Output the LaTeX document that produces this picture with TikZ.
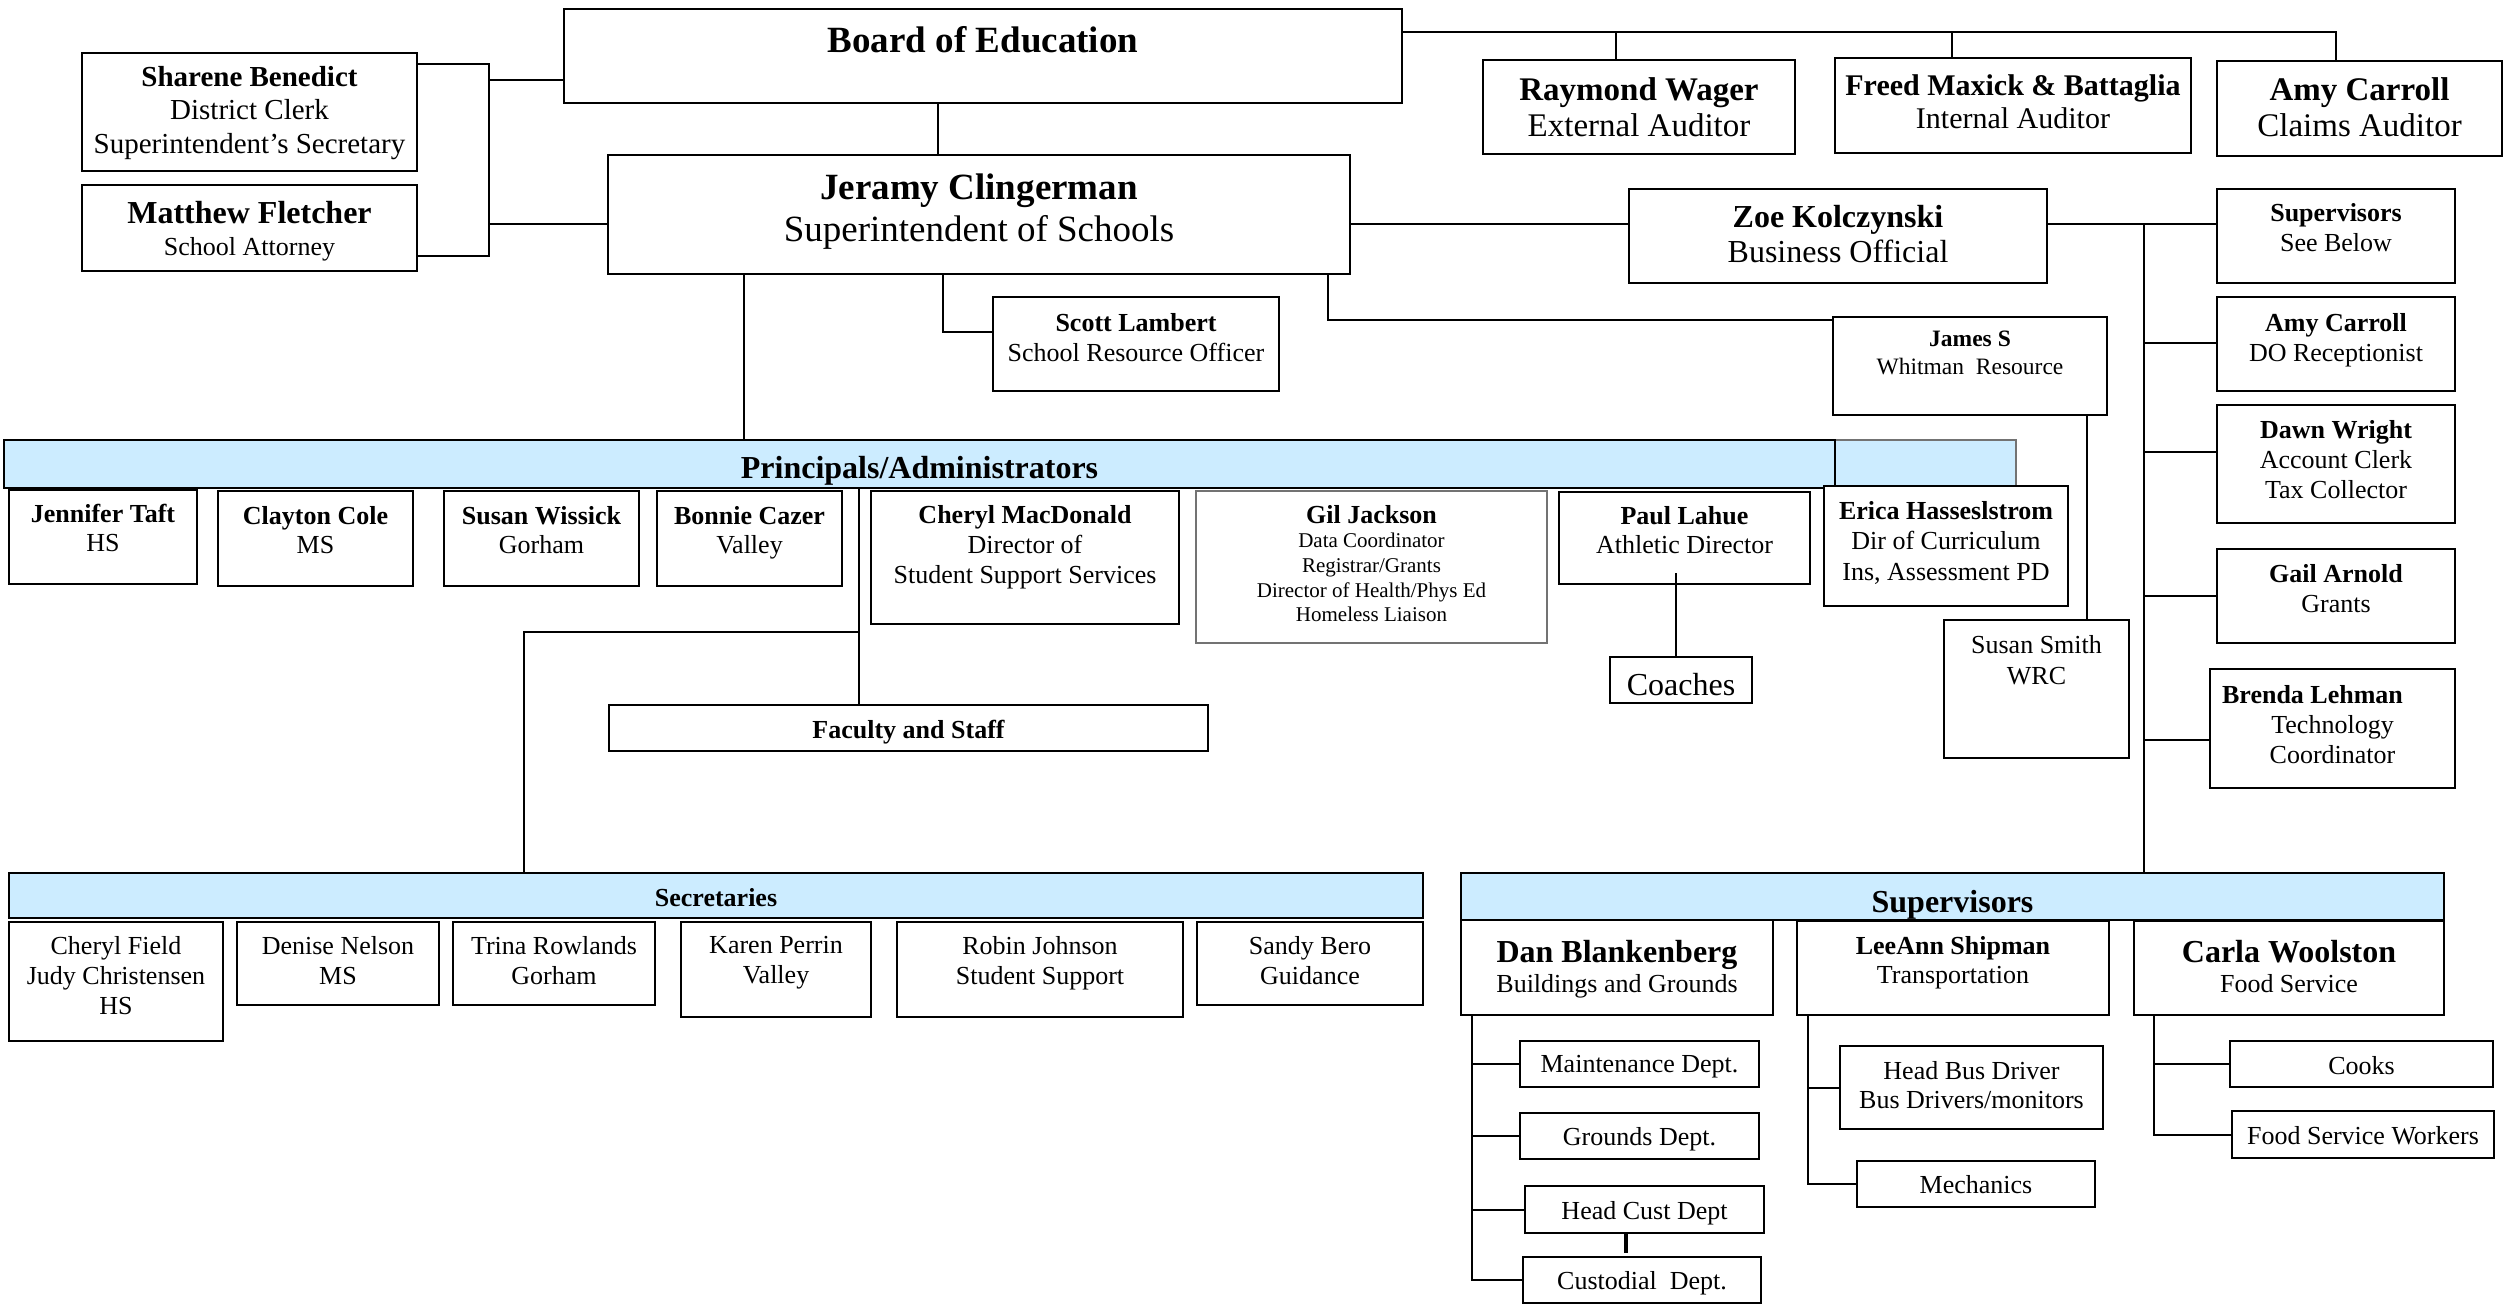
\documentclass[tikz,border=0pt]{standalone}
\usepackage{fontspec}
\setmainfont{Liberation Serif}
\definecolor{barblue}{RGB}{204,236,255}
\newcommand\fs[2]{\fontsize{#1}{#2}\selectfont}
\tikzset{
 boxst/.style={draw=black, line width=2.6pt, fill=white, inner sep=0pt, outer sep=0pt},
 thinbox/.style={draw=black!55, line width=1.3pt, fill=white, inner sep=0pt, outer sep=0pt},
 barst/.style={draw=black, line width=2.8pt, fill=barblue, inner sep=0pt, outer sep=0pt},
 extst/.style={draw=black!55, line width=1.5pt, fill=barblue, inner sep=0pt, outer sep=0pt},
 txt/.style={inner sep=0pt, outer sep=0pt, align=center},
 conn/.style={line width=2pt},
 thinconn/.style={line width=1.4pt}
}
% \obox[style]{name}{x1}{y1}{x2}{y2}{pad}{font}{text}
\newcommand\obox[9][boxst]{%
 \node[#1,anchor=north west,minimum width={#5pt-#3pt},minimum height={#6pt-#4pt}] (#2) at (#3,#4) {};
 \node[txt,font={#8},anchor=north] (#2-t) at ([yshift={2pt-#7pt}]#2.north) {#9};
}
\begin{document}
\begin{tikzpicture}[x=1pt,y=-1pt]
\fill[white] (0,0) rectangle (2513,1307);
\useasboundingbox (0,0) rectangle (2513,1307);

% top level
\obox{board}{564}{9}{1402}{103}{19}{\fs{37}{42}\bfseries}{Board of Education}
\obox{sharene}{82}{53}{417}{171}{15}{\fs{29}{33.5}}{\textbf{Sharene Benedict}\\District Clerk\\Superintendent’s Secretary}
\obox{matthew}{82}{185}{417}{271}{18}{\fs{26}{30}}{{\fs{32}{35}\bfseries Matthew Fletcher}\\[2pt]School Attorney}
\obox{jeramy}{608}{155}{1350}{274}{21}{\fs{37}{42}}{\textbf{Jeramy Clingerman}\\Superintendent of Schools}
\obox{scott}{993}{297}{1279}{391}{18}{\fs{26}{30}}{\textbf{Scott Lambert}\\School Resource Officer}
\obox{raymond}{1483}{60}{1795}{154}{20}{\fs{33}{35.5}}{\textbf{Raymond Wager}\\External Auditor}
\obox{freed}{1835}{58}{2191}{153}{19}{\fs{30}{33}}{\textbf{Freed Maxick \& Battaglia}\\Internal Auditor}
\obox{amyc}{2217}{61}{2502}{156}{19}{\fs{33}{36}}{\textbf{Amy Carroll}\\Claims Auditor}
\obox{zoe}{1629}{189}{2047}{283}{18}{\fs{32}{35}}{\textbf{Zoe Kolczynski}\\Business Official}
\obox{supsee}{2217}{189}{2455}{283}{16}{\fs{26}{30}}{\textbf{Supervisors}\\See Below}
\obox{amydo}{2217}{297}{2455}{391}{18}{\fs{26}{30}}{\textbf{Amy Carroll}\\DO Receptionist}
\obox{dawn}{2217}{405}{2455}{523}{17}{\fs{26}{30}}{\textbf{Dawn Wright}\\Account Clerk\\Tax Collector}
\obox{gail}{2217}{549}{2455}{643}{17}{\fs{26}{30}}{\textbf{Gail Arnold}\\Grants}
\obox{brenda}{2210}{669}{2455}{788}{18}{\fs{26}{30}}{\textbf{Brenda Lehman}\hspace*{40pt}\\Technology\\Coordinator}
\obox{james}{1833}{317}{2107}{415}{16}{\fs{23.5}{28}}{\textbf{James S}\\Whitman\ \ Resource}
\obox{susans}{1944}{620}{2129}{758}{17}{\fs{26}{31}}{Susan Smith\\WRC}

% principals
\node[extst,anchor=north west,minimum width=184pt,minimum height=46pt] (prinext) at (1832,440) {};
\obox[barst]{prin}{4}{440}{1835}{488}{18}{\fs{32}{35}\bfseries}{Principals/Administrators}
\obox{erica}{1824}{486}{2068}{606}{17}{\fs{26}{30.5}}{\textbf{Erica Hasseslstrom}\\Dir of Curriculum\\Ins, Assessment PD}
\obox{jennifer}{9}{490}{197}{584}{16}{\fs{26}{29}}{\textbf{Jennifer Taft}\\HS}
\obox{clayton}{218}{491}{413}{586}{17}{\fs{26}{29}}{\textbf{Clayton Cole}\\MS}
\obox{wissick}{444}{491}{639}{586}{17}{\fs{26}{29}}{\textbf{Susan Wissick}\\Gorham}
\obox{bonnie}{657}{491}{842}{586}{17}{\fs{26}{29}}{\textbf{Bonnie Cazer}\\Valley}
\obox{macd}{871}{491}{1179}{624}{16}{\fs{26}{30}}{\textbf{Cheryl MacDonald}\\Director of\\Student Support Services}
\obox[thinbox]{gil}{1196}{491}{1547}{643}{16}{\fs{21}{24.7}}{{\fs{26}{30}\bfseries Gil Jackson}\\Data Coordinator\\Registrar/Grants\\Director of Health/Phys Ed\\Homeless Liaison}
\obox{paul}{1559}{492}{1810}{584}{16}{\fs{26}{29}}{\textbf{Paul Lahue}\\Athletic Director}
\obox{coaches}{1610}{657}{1752}{703}{18}{\fs{32}{35}}{Coaches}
\obox{faculty}{609}{705}{1208}{751}{17}{\fs{26}{30}\bfseries}{Faculty and Staff}

% secretaries
\obox[barst]{secbar}{9}{873}{1423}{918}{17}{\fs{26}{30}\bfseries}{Secretaries}
\obox{cfield}{9}{922}{223}{1041}{16}{\fs{26}{30}}{Cheryl Field\\Judy Christensen\\HS}
\obox{denise}{237}{922}{439}{1005}{16}{\fs{26}{30}}{Denise Nelson\\MS}
\obox{trina}{453}{922}{655}{1005}{16}{\fs{26}{30}}{Trina Rowlands\\Gorham}
\obox{karen}{681}{922}{871}{1017}{16}{\fs{26}{30}}{Karen Perrin\\Valley}
\obox{robin}{897}{922}{1183}{1017}{16}{\fs{26}{30}}{Robin Johnson\\Student Support}
\obox{sandy}{1197}{922}{1423}{1005}{16}{\fs{26}{30}}{Sandy Bero\\Guidance}

% supervisors
\obox[barst]{supbar}{1461}{873}{2444}{920}{19}{\fs{32}{35}\bfseries}{Supervisors}
\obox{dan}{1461}{920}{1773}{1015}{22}{\fs{26}{30}}{{\fs{32}{35}\bfseries Dan Blankenberg}\\Buildings and Grounds}
\obox{leeann}{1797}{921}{2109}{1015}{17}{\fs{26}{29}}{\textbf{LeeAnn Shipman}\\Transportation}
\obox{carla}{2134}{921}{2444}{1015}{21}{\fs{26}{30}}{{\fs{32}{35}\bfseries Carla Woolston}\\Food Service}
\obox{maint}{1520}{1041}{1759}{1087}{16}{\fs{26}{30}}{Maintenance Dept.}
\obox{grounds}{1520}{1113}{1759}{1159}{16}{\fs{26}{30}}{Grounds Dept.}
\obox{headcust}{1525}{1186}{1764}{1233}{17}{\fs{26}{30}}{Head Cust Dept}
\obox{custod}{1523}{1257}{1761}{1303}{16}{\fs{26}{30}}{Custodial\ \ Dept.}
\obox{headbus}{1840}{1046}{2103}{1129}{17}{\fs{26}{29}}{Head Bus Driver\\Bus Drivers/monitors}
\obox{mech}{1857}{1161}{2095}{1207}{16}{\fs{26}{30}}{Mechanics}
\obox{cooks}{2230}{1041}{2493}{1087}{17}{\fs{26}{30}}{Cooks}
\obox{fsw}{2232}{1111}{2494}{1158}{17}{\fs{26}{30}}{Food Service Workers}

% ---- connectors ----
\coordinate (b1) at (489,64); \coordinate (b2) at (489,256);
\coordinate (b3) at (489,80); \coordinate (b4) at (489,224);
\draw[conn] (sharene.east |- b1) -- (b1) -- (b2) -- (matthew.east |- b2);
\draw[conn] (b3) -- (board.west |- b3);
\draw[conn] (b4) -- (jeramy.west |- b4);

\coordinate (c1) at (938,0);
\draw[conn] (board.south -| c1) -- (jeramy.north -| c1);

\coordinate (a0) at (1402,32); \coordinate (a1) at (1616,32);
\coordinate (a2) at (1952,32); \coordinate (a3) at (2336,32);
\draw[conn] (board.east |- a0) -- (a3) -- (amyc.north -| a3);
\draw[conn] (a1) -- (raymond.north -| a1);
\draw[conn] (a2) -- (freed.north -| a2);

\coordinate (z0) at (0,224);
\draw[conn] (jeramy.east |- z0) -- (zoe.west |- z0);
\coordinate (k0) at (2144,224);
\draw[conn] (zoe.east |- k0) -- (supsee.west |- k0);
\draw[conn] (k0) -- (supbar.north -| k0);
\coordinate (k1) at (2144,343); \coordinate (k2) at (2144,452);
\coordinate (k3) at (2144,596); \coordinate (k4) at (2144,740);
\draw[conn] (k1) -- (amydo.west |- k1);
\draw[conn] (k2) -- (dawn.west |- k2);
\draw[conn] (k3) -- (gail.west |- k3);
\draw[conn] (k4) -- (brenda.west |- k4);

\coordinate (s0) at (943,332);
\draw[conn] (jeramy.south -| s0) -- (s0) -- (scott.west |- s0);
\coordinate (jm) at (1328,320);
\draw[conn] (jeramy.south -| jm) -- (jm) -- (james.west |- jm);
\coordinate (js) at (2087,0);
\draw[conn] (james.south -| js) -- (susans.north -| js);

\coordinate (jp) at (744,0);
\draw[thinconn] (jeramy.south -| jp) -- (prin.north -| jp);
\coordinate (fa) at (859,632);
\draw[thinconn] (prin.south -| fa) -- (faculty.north -| fa);
\coordinate (se) at (524,632);
\draw[conn] (fa) -- (se) -- (secbar.north -| se);

\coordinate (pc) at (1676,573);
\draw[conn] (pc) -- (coaches.north -| pc);

\coordinate (d0) at (1472,0);
\draw[conn] (dan.south -| d0) -- (d0 |- custod.west) -- (custod.west);
\draw[conn] (d0 |- maint.west) -- (maint.west);
\draw[conn] (d0 |- grounds.west) -- (grounds.west);
\draw[conn] (d0 |- headcust.west) -- (headcust.west);
\coordinate (hc) at (1626,0);
\draw[line width=4pt] (headcust.south -| hc) -- ([yshift=4pt]custod.north -| hc);

\coordinate (l0) at (1808,0);
\draw[conn] (leeann.south -| l0) -- (l0 |- mech.west) -- (mech.west);
\draw[conn] (l0 |- headbus.west) -- (headbus.west);

\coordinate (c0) at (2154,0);
\draw[conn] (carla.south -| c0) -- (c0 |- fsw.west) -- (fsw.west);
\draw[conn] (c0 |- cooks.west) -- (cooks.west);
\end{tikzpicture}
\end{document}
